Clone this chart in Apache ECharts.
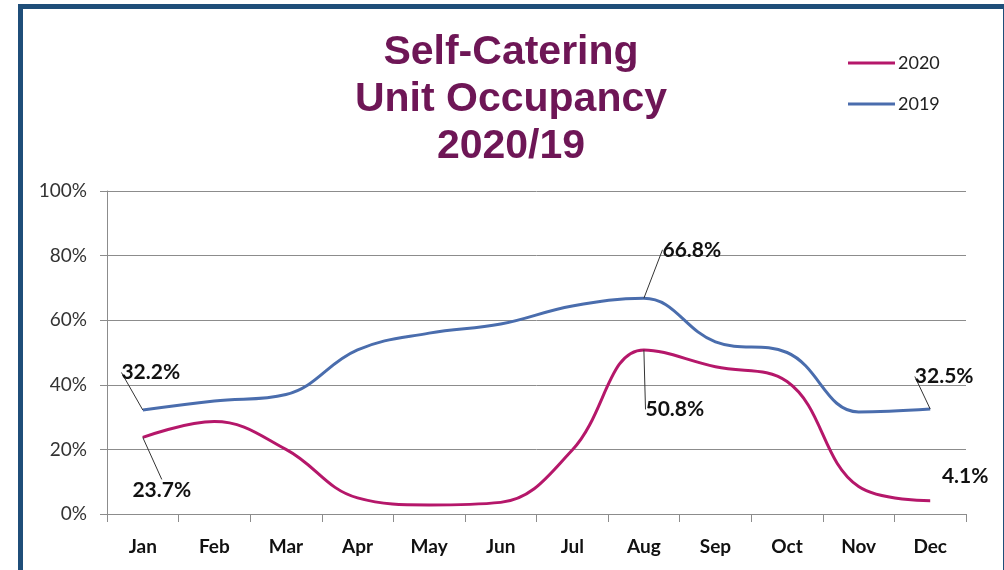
<!DOCTYPE html>
<html>
<head>
<meta charset="utf-8">
<script src="https://cdn.jsdelivr.net/npm/echarts@6/dist/echarts.min.js"></script>
<style>
  html, body { margin: 0; padding: 0; background: #fff; }
  #frame {
    position: absolute; left: 18px; top: 4px; width: 980px; height: 562px;
    border: 5px solid #1f4e79; border-right-width: 7px; box-sizing: content-box;
  }
  #chart { position: absolute; left: 0; top: 0; width: 1004px; height: 570px; }
</style>
</head>
<body>
<div id="frame"></div>
<div id="chart"></div>
<script>
const months = ['Jan', 'Feb', 'Mar', 'Apr', 'May', 'Jun', 'Jul', 'Aug', 'Sep', 'Oct', 'Nov', 'Dec']
const occ2020 = [23.7, 28.6, 20, 5, 2.8, 3.6, 19.8, 50.8, 45.6, 41, 8.5, 4.1]
const occ2019 = [32.2, 35, 37, 50.8, 56, 58.8, 64.4, 66.8, 53.3, 50, 31.6, 32.5]
const yTicks = [0, 20, 40, 60, 80, 100]
const labelled = [0, 7, 11]

// where each data label sits relative to its default spot, [dx, dy]
const labelShift = {
  '0-0': [19, 67],    // 2020 Jan
  '0-7': [31, 74],    // 2020 Aug
  '0-11': [35, -10],  // 2020 Dec
  '1-0': [8, -23],    // 2019 Jan
  '1-7': [48, -34],   // 2019 Aug
  '1-11': [14, -18]   // 2019 Dec
}
const noLeader = ['0-11']

const chart = echarts.init(document.getElementById('chart'))

function pointData(values, si) {
  return values.map((v, i) => ({
    value: v,
    label: { show: labelled.includes(i) },
    labelLine: { show: !noLeader.includes(si + '-' + i) }
  }))
}

const labelStyle = {
  position: 'top',
  distance: 4,
  formatter: p => p.value.toFixed(1) + '%',
  color: '#111',
  fontFamily: 'Lato, Liberation Sans, sans-serif',
  fontWeight: 'bold',
  fontSize: 21
}

function layoutFor(params) {
  const s = labelShift[params.seriesIndex + '-' + params.dataIndex]
  return s ? { dx: s[0], dy: s[1] } : {}
}

chart.setOption({
  animation: false,
  title: {
    text: 'Self-Catering\nUnit Occupancy\n2020/19',
    left: 511,
    top: 29,
    padding: 0,
    textAlign: 'center',
    textStyle: {
      color: '#6e1656',
      fontFamily: 'Liberation Sans, Arial, sans-serif',
      fontWeight: 'bold',
      fontSize: 41,
      lineHeight: 47
    }
  },
  legend: {
    orient: 'vertical',
    left: 843,
    top: 49,
    itemGap: 23,
    itemWidth: 47,
    itemHeight: 3,
    icon: 'rect',
    data: ['2020', '2019'],
    textStyle: { fontFamily: 'Lato, Liberation Sans, sans-serif', fontSize: 18, color: '#222', padding: [0, 0, 0, -2] }
  },
  grid: { left: 107, right: 38, top: 191, bottom: 56 },
  xAxis: {
    type: 'category',
    data: months,
    boundaryGap: true,
    axisLine: { lineStyle: { color: '#8c8c8c', width: 1 } },
    axisTick: { show: true, length: 8, lineStyle: { color: '#8c8c8c' } },
    axisLabel: {
      margin: 23,
      color: '#111',
      fontFamily: 'Lato, Liberation Sans, sans-serif',
      fontWeight: 'bold',
      fontSize: 19
    }
  },
  yAxis: {
    type: 'value',
    min: 0,
    max: 100,
    interval: 20,
    axisLine: { show: true, lineStyle: { color: '#8c8c8c' } },
    axisTick: { show: true, length: 7, lineStyle: { color: '#8c8c8c' } },
    splitLine: { lineStyle: { color: '#8c8c8c', width: 1 } },
    axisLabel: {
      margin: 20,
      color: '#333',
      fontFamily: 'Lato, Liberation Sans, sans-serif',
      fontSize: 19,
      formatter: v => yTicks.includes(v) ? v + '%' : ''
    }
  },
  series: [
    {
      name: '2020',
      type: 'line',
      data: pointData(occ2020, 0),
      smooth: 0.4,
      showSymbol: true,
      symbol: 'circle',
      symbolSize: 0,
      color: '#b5176a',
      lineStyle: { width: 3, color: '#b5176a' },
      label: labelStyle,
      labelLayout: layoutFor,
      labelLine: { show: true, lineStyle: { color: '#333', width: 1 } }
    },
    {
      name: '2019',
      type: 'line',
      data: pointData(occ2019, 1),
      smooth: 0.4,
      showSymbol: true,
      symbol: 'circle',
      symbolSize: 0,
      color: '#4a6dad',
      lineStyle: { width: 3, color: '#4a6dad' },
      label: labelStyle,
      labelLayout: layoutFor,
      labelLine: { show: true, lineStyle: { color: '#333', width: 1 } }
    }
  ]
})
</script>
</body>
</html>
